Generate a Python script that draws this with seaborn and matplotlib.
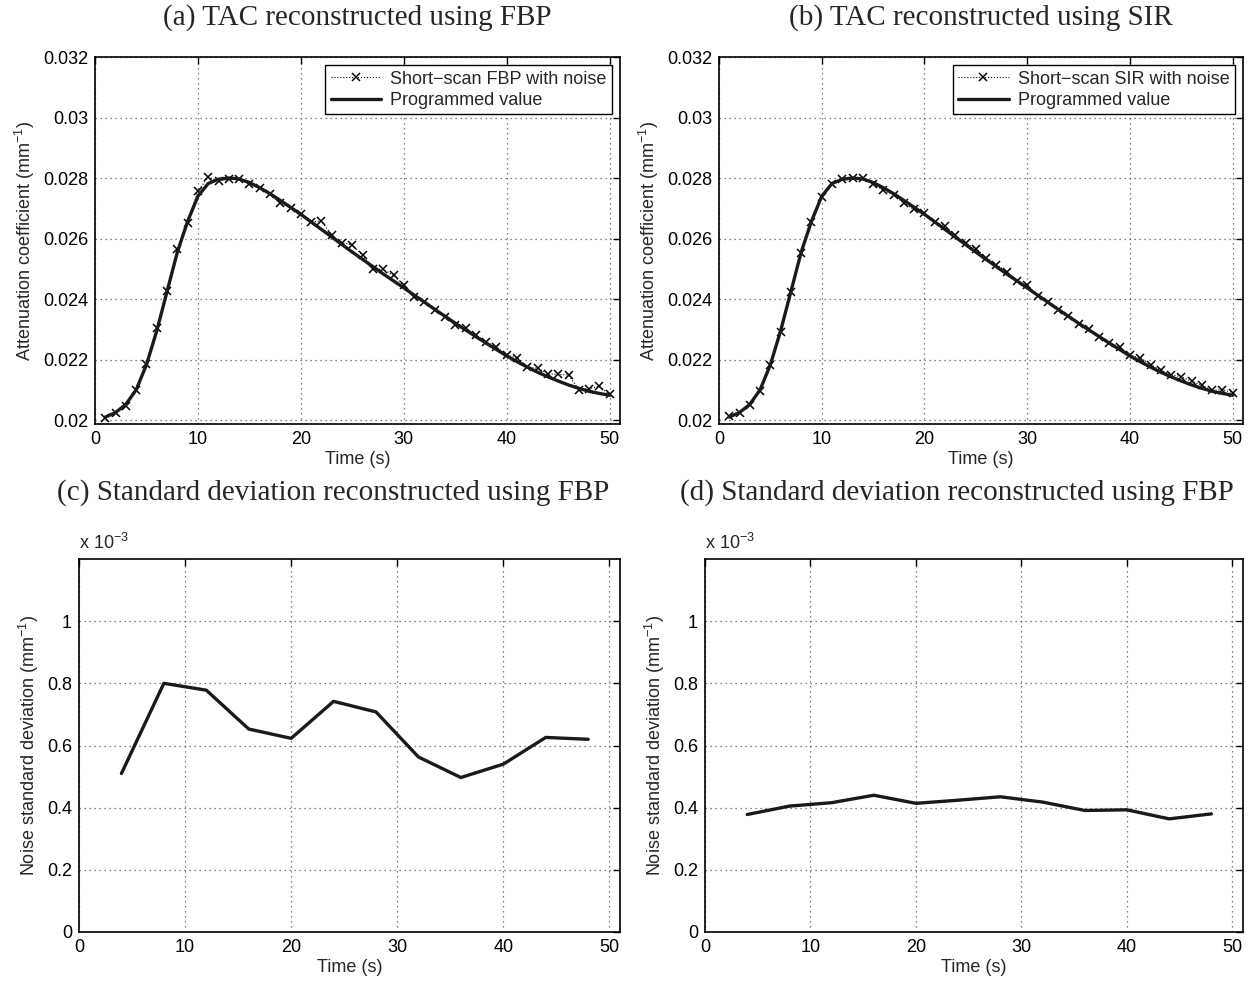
import numpy as np
import pandas as pd
import matplotlib
matplotlib.use("Agg")
import matplotlib.pyplot as plt
from matplotlib.ticker import FuncFormatter
import seaborn as sns

# --- dados ---
time_s = list(range(1, 51))

fbp_noisy = [0.02008, 0.02024, 0.02048, 0.02101, 0.02186, 0.02303, 0.02426, 0.02564, 0.02652, 0.02757,
             0.02803, 0.02790, 0.02796, 0.02798, 0.02779, 0.02768, 0.02746, 0.02716, 0.02702, 0.02680,
             0.02655, 0.02658, 0.02611, 0.02586, 0.02579, 0.02544, 0.02500, 0.02498, 0.02478, 0.02445,
             0.02407, 0.02390, 0.02364, 0.02341, 0.02314, 0.02303, 0.02281, 0.02258, 0.02242, 0.02214,
             0.02206, 0.02175, 0.02171, 0.02153, 0.02151, 0.02149, 0.02101, 0.02104, 0.02111, 0.02085]

sir_noisy = [0.02013, 0.02024, 0.02051, 0.02097, 0.02182, 0.02290, 0.02424, 0.02553, 0.02655, 0.02738,
             0.02780, 0.02797, 0.02799, 0.02799, 0.02779, 0.02760, 0.02744, 0.02716, 0.02696, 0.02683,
             0.02655, 0.02641, 0.02611, 0.02584, 0.02567, 0.02536, 0.02514, 0.02490, 0.02459, 0.02446,
             0.02411, 0.02391, 0.02365, 0.02344, 0.02319, 0.02300, 0.02275, 0.02255, 0.02242, 0.02214,
             0.02205, 0.02183, 0.02165, 0.02150, 0.02143, 0.02128, 0.02115, 0.02098, 0.02101, 0.02090]

programmed = [0.02010, 0.02025, 0.02052, 0.02100, 0.02183, 0.02295, 0.02425, 0.02555, 0.02657, 0.02740,
              0.02782, 0.02796, 0.02800, 0.02797, 0.02785, 0.02768, 0.02748, 0.02726, 0.02703, 0.02680,
              0.02655, 0.02630, 0.02605, 0.02580, 0.02555, 0.02531, 0.02507, 0.02483, 0.02460, 0.02437,
              0.02413, 0.02390, 0.02366, 0.02343, 0.02320, 0.02298, 0.02276, 0.02254, 0.02233, 0.02212,
              0.02193, 0.02175, 0.02158, 0.02143, 0.02129, 0.02116, 0.02105, 0.02095, 0.02088, 0.02082]

std_time = [4, 8, 12, 16, 20, 24, 28, 32, 36, 40, 44, 48]
# desvio padrao em unidades de 1e-3 mm^-1
std_fbp = [0.510, 0.800, 0.778, 0.653, 0.623, 0.742, 0.708, 0.563, 0.497, 0.540, 0.626, 0.620]
std_sir = [0.378, 0.405, 0.416, 0.440, 0.414, 0.424, 0.435, 0.418, 0.391, 0.393, 0.364, 0.380]

titles = ['(a) TAC reconstructed using FBP', '(b) TAC reconstructed using SIR',
          '(c) Standard deviation reconstructed using FBP', '(d) Standard deviation reconstructed using FBP']
noisy_labels = ['Short\u2212scan FBP with noise', 'Short\u2212scan SIR with noise']

# --- estilo ---
sns.set_style("white")
plt.rcParams['font.family'] = ['Liberation Sans', 'DejaVu Sans']
plt.rcParams['mathtext.fontset'] = 'custom'
plt.rcParams['mathtext.rm'] = 'Liberation Sans'
plt.rcParams['mathtext.it'] = 'Liberation Sans:italic'

W, H = 1252, 982
fig = plt.figure(figsize=(W / 100, H / 100), dpi=100)


def px_axes(x0, y0, x1, y1):
    return fig.add_axes([x0 / W, 1 - y1 / H, (x1 - x0) / W, (y1 - y0) / H])


def style_axes(ax):
    for s in ax.spines.values():
        s.set_linewidth(1.2)
        s.set_color('k')
    ax.tick_params(direction='in', top=True, right=True, length=5, width=1,
                   labelsize=13, colors='k', pad=5)
    ax.grid(True, linestyle=(0, (1, 3)), color='0.35', linewidth=0.9)
    ax.set_xlim(0, 51)
    ax.set_xticks([0, 10, 20, 30, 40, 50])
    ax.set_xlabel('Time (s)', fontsize=13, labelpad=2)


fmt_g = FuncFormatter(lambda v, p: f"{v:g}")

ax_a = px_axes(95, 57, 620, 424)
ax_b = px_axes(719, 57, 1243, 424)
ax_c = px_axes(79, 559, 620, 932)
ax_d = px_axes(705, 559, 1243, 932)

# --- TAC ---
for ax, noisy, lab in [(ax_a, fbp_noisy, noisy_labels[0]), (ax_b, sir_noisy, noisy_labels[1])]:
    style_axes(ax)
    sns.lineplot(x=time_s, y=noisy, ax=ax, color='k', linestyle=':', linewidth=0.8,
                 marker='x', markersize=6, markeredgecolor='k', markeredgewidth=1.1, label=lab)
    sns.lineplot(x=time_s, y=programmed, ax=ax, color='#1a1a1a', linewidth=2.4, label='Programmed value')
    ax.set_ylim(0.01987, 0.032)
    ax.set_yticks([0.02, 0.022, 0.024, 0.026, 0.028, 0.03, 0.032])
    ax.yaxis.set_major_formatter(fmt_g)
    ax.set_ylabel('Attenuation coefficient (mm$^{-1}$)', fontsize=13, labelpad=4)
    leg = ax.legend(loc='upper right', fontsize=13, frameon=True, fancybox=False,
                    edgecolor='k', framealpha=1, borderaxespad=0.45, handlelength=2.8,
                    borderpad=0.3, labelspacing=0.25, handletextpad=0.5)
    leg.get_frame().set_linewidth(1.0)

# --- desvio padrao ---
for ax, vals in [(ax_c, std_fbp), (ax_d, std_sir)]:
    style_axes(ax)
    sns.lineplot(x=std_time, y=vals, ax=ax, color='#1a1a1a', linewidth=2.4)
    ax.set_ylim(0, 1.2)
    ax.set_yticks([0, 0.2, 0.4, 0.6, 0.8, 1.0])
    ax.yaxis.set_major_formatter(fmt_g)
    ax.set_ylabel('Noise standard deviation (mm$^{-1}$)', fontsize=13, labelpad=4)
    ax.text(0, 1.015, 'x 10$^{-3}$', transform=ax.transAxes, fontsize=13, ha='left', va='bottom')

# --- titulos ---
serif = ['Liberation Serif', 'DejaVu Serif']
for (cx, cy), t in zip([(357, 18), (981, 18), (333, 493), (957, 493)], titles):
    fig.text(cx / W, 1 - cy / H, t, ha='center', va='center', fontsize=21, family=serif)

plt.savefig('out.png', dpi=100)
